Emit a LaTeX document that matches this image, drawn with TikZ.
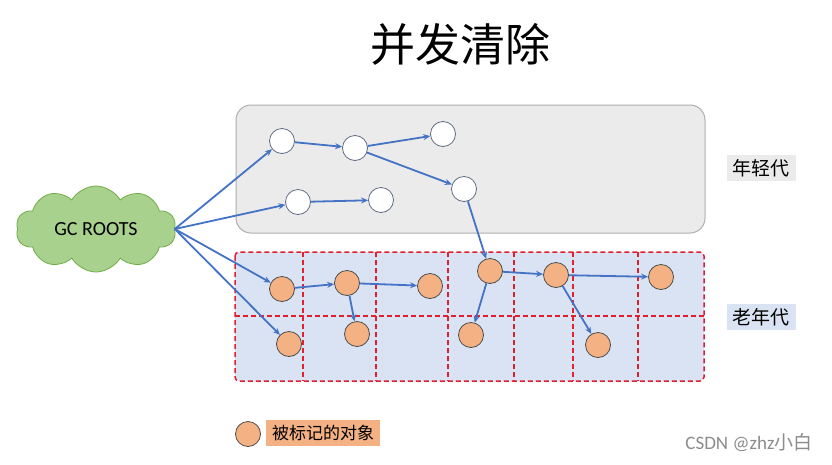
\documentclass[tikz,border=0pt]{standalone}
\usepackage{fontspec}
\setmainfont{Carlito}
\newfontfamily\cjk{Noto Sans CJK SC}
\usetikzlibrary{shapes.symbols,arrows.meta}
\definecolor{arrowblue}{HTML}{4472C4}
\definecolor{younggray}{HTML}{EBEBEB}
\definecolor{youngborder}{HTML}{AFAFAF}
\definecolor{oldblue}{HTML}{DAE3F3}
\definecolor{dashred}{HTML}{E0202F}
\definecolor{markorange}{HTML}{F4B183}
\definecolor{cloudgreen}{HTML}{A9D18E}
\definecolor{cloudborder}{HTML}{70AD47}
\tikzset{
  obj/.style={circle, draw=black!70, line width=0.8pt, minimum size=25pt, inner sep=0pt},
  youngobj/.style={obj, fill=white, draw=arrowblue!40!black!70},
  marked/.style={obj, fill=markorange},
  link/.style={draw=arrowblue, line width=1.8pt, -{Stealth[length=7pt,width=6pt]}},
  reddash/.style={draw=dashred, line width=1.5pt, dash pattern=on 5pt off 3pt},
  genlabel/.style={font=\cjk\fontsize{19}{22}\selectfont, inner xsep=6pt, inner ysep=4pt}
}
\begin{document}
\begin{tikzpicture}[x=1pt,y=-1pt]
\useasboundingbox[fill=white] (0,0) rectangle (832,464);
% title
\node (title) at (460,44) {\cjk\fontsize{45}{50}\selectfont 并发清除};
% young generation box
\draw[fill=younggray, draw=youngborder, line width=1pt, rounded corners=15pt] (236,105) rectangle (705,233);
% old generation box
\fill[oldblue, rounded corners=4pt] (235,252) rectangle (704,381);
\coordinate (g1t) at (303,252); \coordinate (g1b) at (303,381);
\coordinate (g2t) at (376,252); \coordinate (g2b) at (376,381);
\coordinate (g3t) at (448,252); \coordinate (g3b) at (448,381);
\coordinate (g4t) at (514,252); \coordinate (g4b) at (514,381);
\coordinate (g5t) at (573,252); \coordinate (g5b) at (573,381);
\coordinate (g6t) at (638,252); \coordinate (g6b) at (638,381);
\coordinate (hl) at (235,316); \coordinate (hr) at (704,316);
\foreach \i in {1,...,6} { \draw[reddash] (g\i t) -- (g\i b); }
\draw[reddash] (hl) -- (hr);
\draw[reddash, rounded corners=4pt] (235,252) rectangle (704,381);
% labels
\node[genlabel, fill=younggray] (younglab) at (761,168) {年轻代};
\node[genlabel, fill=oldblue] (oldlab) at (761,317) {老年代};
% GC roots
\node[cloud, cloud puffs=10, cloud puff arc=120, cloud ignores aspect, minimum width=160pt, minimum height=86pt, fill=cloudgreen, draw=cloudborder, line width=0.8pt, font=\fontsize{20}{24}\selectfont] (gc) at (96,229) {GC ROOTS};
% young objects
\node[youngobj] (y1) at (282,141) {};
\node[youngobj] (y2) at (355,148) {};
\node[youngobj] (y3) at (443,134) {};
\node[youngobj] (y4) at (464,189) {};
\node[youngobj] (y5) at (298,202) {};
\node[youngobj] (y6) at (381,200) {};
% old objects
\node[marked] (o1) at (282,289) {};
\node[marked] (o2) at (347,283) {};
\node[marked] (o3) at (430,286) {};
\node[marked] (o4) at (490,271) {};
\node[marked] (o5) at (556,275) {};
\node[marked] (o6) at (661,277) {};
\node[marked] (o7) at (289,344) {};
\node[marked] (o8) at (357,334) {};
\node[marked] (o9) at (471,335) {};
\node[marked] (o10) at (598,345) {};
% links
\draw[link] (gc.east) -- (y1);
\draw[link] (gc.east) -- (y5);
\draw[link] (gc.east) -- (o1);
\draw[link] (gc.east) -- (o7);
\draw[link] (y1) -- (y2);
\draw[link] (y2) -- (y3);
\draw[link] (y2) -- (y4);
\draw[link] (y5) -- (y6);
\draw[link] (y4) -- (o4);
\draw[link] (o1) -- (o2);
\draw[link] (o2) -- (o3);
\draw[link] (o2) -- (o8);
\draw[link] (o4) -- (o5);
\draw[link] (o4) -- (o9);
\draw[link] (o5) -- (o6);
\draw[link] (o5) -- (o10);
% legend
\node[marked] (legobj) at (248,434) {};
\node[font=\cjk\fontsize{17}{20}\selectfont, fill=markorange, inner xsep=6pt, inner ysep=5pt] (leglab) at (323,433) {被标记的对象};
% watermark
\node[font=\fontsize{19}{22}\selectfont, text=black!45] (wm) at (749,443) {CSDN @zhz{\cjk 小白}};
\end{tikzpicture}
\end{document}
